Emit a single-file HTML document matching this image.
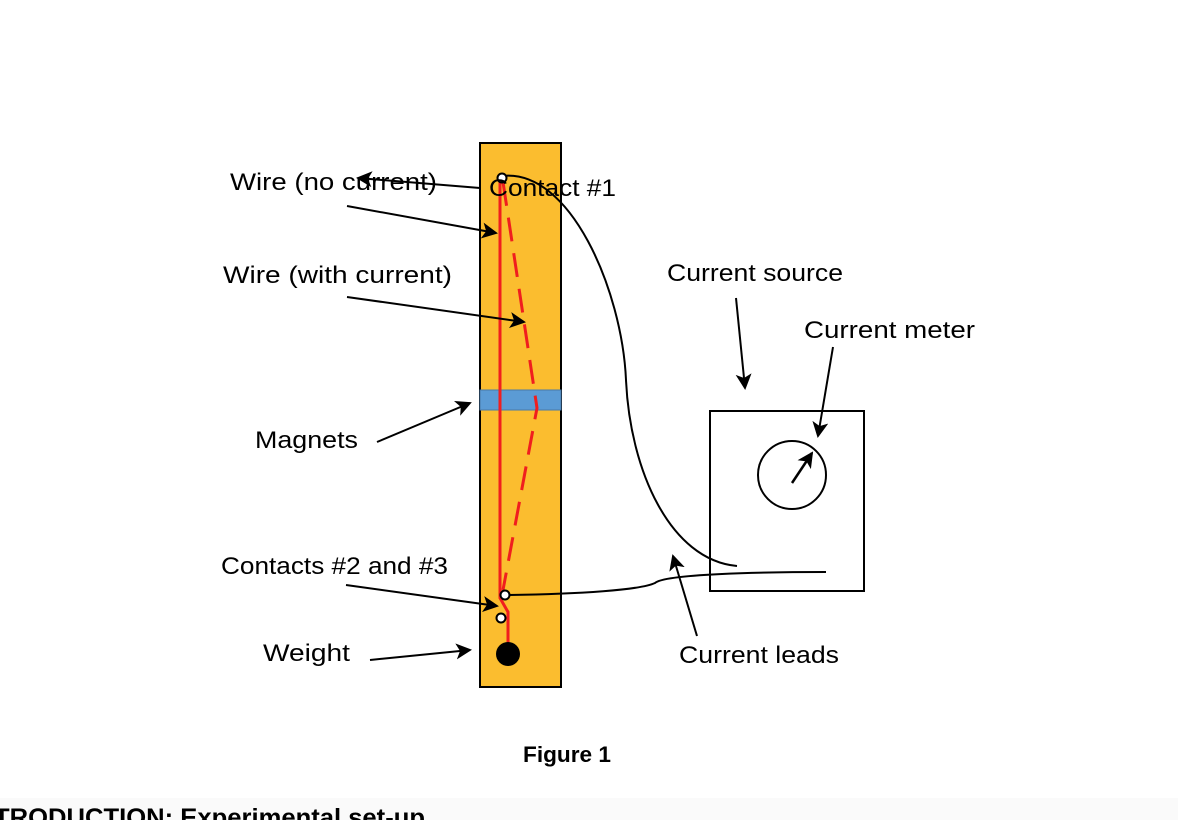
<!DOCTYPE html>
<html><head><meta charset="utf-8"><style>
html,body{margin:0;padding:0;background:#fff;}
svg{display:block;}
text{font-family:"Liberation Sans",sans-serif;font-size:24px;fill:#000;}
</style></head><body>
<svg width="1178" height="820" viewBox="0 0 1178 820" xmlns="http://www.w3.org/2000/svg">
<defs>
<marker id="b" markerWidth="16" markerHeight="16" refX="14" refY="8" orient="auto" markerUnits="userSpaceOnUse" viewBox="0 0 16 16">
<path d="M0,0 L16,8 L0,16 L4,8 Z" fill="#000"/>
</marker>
</defs>
<rect x="0" y="798" width="1178" height="22" fill="#fafafa"/>
<rect x="480" y="143" width="81" height="544" fill="#fbbd2f" stroke="#000" stroke-width="2"/>
<rect x="480" y="390" width="81" height="20" fill="#5b9bd5" stroke="#4a7aa8" stroke-width="1"/>
<path d="M500,180 L500,598 L508,612 L508,643" fill="none" stroke="#f01e1e" stroke-width="3"/>
<path d="M503,182 L537,408 L503,590" fill="none" stroke="#f01e1e" stroke-width="3" stroke-dasharray="24,12"/>
<path d="M502,176 C570,168 622,290 626,380 C630,470 670,560 737,566" fill="none" stroke="#000" stroke-width="2"/>
<path d="M509,595 C580,594 640,590 655,583 C665,574 760,572 826,572" fill="none" stroke="#000" stroke-width="2"/>
<circle cx="502" cy="178" r="4.5" fill="#fff" stroke="#000" stroke-width="2"/>
<circle cx="505" cy="595" r="4.5" fill="#fff" stroke="#000" stroke-width="2"/>
<circle cx="501" cy="618" r="4.5" fill="#fff" stroke="#000" stroke-width="2"/>
<circle cx="508" cy="654" r="12" fill="#000"/>
<rect x="710" y="411" width="154" height="180" fill="none" stroke="#000" stroke-width="2"/>
<circle cx="792" cy="475" r="34" fill="none" stroke="#000" stroke-width="2"/>
<line x1="792" y1="483" x2="812" y2="453" stroke="#000" stroke-width="2.5" marker-end="url(#b)"/>
<line x1="480" y1="188" x2="358" y2="178" stroke="#000" stroke-width="2" marker-end="url(#b)"/>
<line x1="347" y1="206" x2="496" y2="233" stroke="#000" stroke-width="2" marker-end="url(#b)"/>
<line x1="347" y1="297" x2="524" y2="322" stroke="#000" stroke-width="2" marker-end="url(#b)"/>
<line x1="377" y1="442" x2="470" y2="403" stroke="#000" stroke-width="2" marker-end="url(#b)"/>
<line x1="346" y1="585" x2="497" y2="606" stroke="#000" stroke-width="2" marker-end="url(#b)"/>
<line x1="370" y1="660" x2="470" y2="650" stroke="#000" stroke-width="2" marker-end="url(#b)"/>
<line x1="736" y1="298" x2="745" y2="388" stroke="#000" stroke-width="2" marker-end="url(#b)"/>
<line x1="833" y1="347" x2="818" y2="436" stroke="#000" stroke-width="2" marker-end="url(#b)"/>
<line x1="697" y1="636" x2="673" y2="556" stroke="#000" stroke-width="2" marker-end="url(#b)"/>
<text x="230" y="190" textLength="207" lengthAdjust="spacingAndGlyphs">Wire (no current)</text>
<text x="489" y="196" textLength="127" lengthAdjust="spacingAndGlyphs">Contact #1</text>
<text x="223" y="283" textLength="229" lengthAdjust="spacingAndGlyphs">Wire (with current)</text>
<text x="667" y="281" textLength="176" lengthAdjust="spacingAndGlyphs">Current source</text>
<text x="804" y="338" textLength="171" lengthAdjust="spacingAndGlyphs">Current meter</text>
<text x="255" y="448" textLength="103" lengthAdjust="spacingAndGlyphs">Magnets</text>
<text x="221" y="574" textLength="227" lengthAdjust="spacingAndGlyphs">Contacts #2 and #3</text>
<text x="263" y="661" textLength="87" lengthAdjust="spacingAndGlyphs">Weight</text>
<text x="679" y="663" textLength="160" lengthAdjust="spacingAndGlyphs">Current leads</text>
<text x="523" y="762" style="font-weight:bold;font-size:22px" textLength="88" lengthAdjust="spacingAndGlyphs">Figure 1</text>
<text x="-6" y="826" style="font-weight:bold;font-size:25px" textLength="431" lengthAdjust="spacingAndGlyphs">TRODUCTION: Experimental set-up</text>
</svg>
</body></html>
